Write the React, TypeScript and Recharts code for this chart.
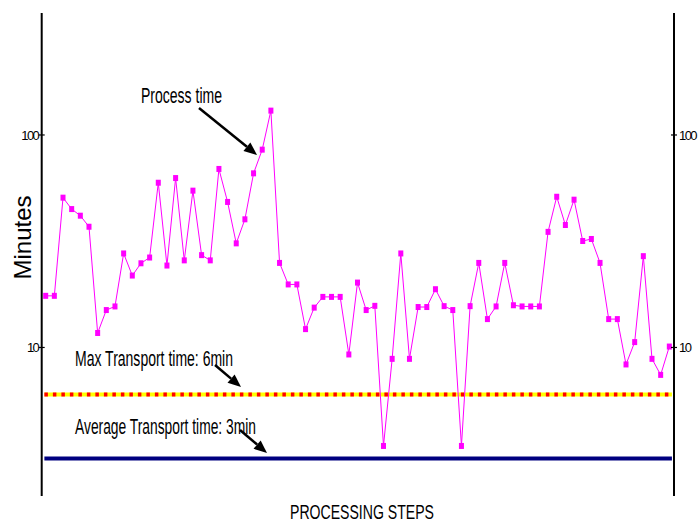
import { Line, LineChart, ReferenceLine, XAxis, YAxis } from 'recharts';

// minutes per processing step
const processTime = [
  17.5, 17.5, 50.7, 44.8, 41.7, 37.0, 11.7, 15.0, 15.6, 27.7,
  21.8, 24.9, 26.5, 59.6, 24.3, 62.7, 25.7, 54.7, 27.2, 25.7,
  69.2, 48.4, 30.9, 40.1, 66.0, 85.3, 130.2, 25.0, 19.8, 19.8,
  12.2, 15.4, 17.3, 17.3, 17.3, 9.27, 20.2, 15.0, 15.7, 3.44,
  8.84, 27.7, 8.84, 15.5, 15.5, 18.8, 15.65, 15.0, 3.44, 15.65,
  25.0, 13.6, 15.6, 25.0, 15.8, 15.6, 15.6, 15.6, 35.0, 51.2,
  37.7, 49.6, 31.7, 32.4, 25.0, 13.6, 13.6, 8.32, 10.6, 26.9,
  8.84, 7.43, 10.1,
];
const maxTransport = 6;
const avgTransport = 3;
const yTicks = [10, 100];

const data = processTime.map((time, i) => ({ step: i, time }));
const lastStep = processTime.length - 1;

const narrow = { fontFamily: '"Liberation Sans", Arial, sans-serif', fill: '#000' };

function YTick({ x, y, payload, side }: any) {
  const label = String(payload.value);
  const left = side === 'left';
  return (
    <g>
      <line
        x1={left ? x + 2 : x - 8}
        x2={left ? x + 8 : x - 2}
        y1={y}
        y2={y}
        stroke="#000"
        strokeWidth={1.2}
      />
      <text
        x={left ? x + 1.5 : x}
        y={y + 5}
        textAnchor={left ? 'end' : 'start'}
        fontSize={13}
        letterSpacing={-1.6}
        style={narrow}
      >
        {label}
      </text>
    </g>
  );
}

function Marker({ cx, cy }: any) {
  if (cx == null || cy == null) return null;
  return <rect x={cx - 2.5} y={cy - 3} width={5} height={6} fill="#FF00FF" />;
}

function Arrow({ x1, y1, x2, y2 }: { x1: number; y1: number; x2: number; y2: number }) {
  const dx = x2 - x1;
  const dy = y2 - y1;
  const len = Math.hypot(dx, dy);
  const ux = dx / len;
  const uy = dy / len;
  const head = 13;
  const half = 5.5;
  const bx = x2 - ux * head;
  const by = y2 - uy * head;
  const pts = `${x2},${y2} ${bx - uy * half},${by + ux * half} ${bx + uy * half},${by - ux * half}`;
  return (
    <g>
      <line x1={x1} y1={y1} x2={bx} y2={by} stroke="#000" strokeWidth={2.5} />
      <polygon points={pts} fill="#000" />
    </g>
  );
}

function NarrowText({ x, y, w, size, children }: any) {
  return (
    <text x={x} y={y} fontSize={size} textLength={w} lengthAdjust="spacingAndGlyphs" style={narrow}>
      {children}
    </text>
  );
}

export default function App() {
  return (
    <div style={{ position: 'absolute', left: 0, top: 0, width: 699, height: 522, background: '#fff' }}>
      <LineChart
        width={699}
        height={522}
        data={data}
        margin={{ top: 13, right: 0, bottom: 26, left: 1.7 }}
      >
        <XAxis dataKey="step" type="number" domain={[-0.46, lastStep + 0.54]} hide />
        <YAxis
          yAxisId="left"
          orientation="left"
          width={40}
          scale="log"
          domain={[2, 375]}
          allowDataOverflow
          ticks={yTicks}
          tickSize={3}
          tickMargin={2}
          tickLine={false}
          axisLine={{ stroke: '#000', strokeWidth: 2 }}
          tick={<YTick side="left" />}
        />
        <YAxis
          yAxisId="right"
          orientation="right"
          width={25}
          scale="log"
          domain={[2, 375]}
          allowDataOverflow
          ticks={yTicks}
          tickSize={3}
          tickMargin={2}
          tickLine={false}
          axisLine={{ stroke: '#000', strokeWidth: 2 }}
          tick={<YTick side="right" />}
        />
        <ReferenceLine
          yAxisId="left"
          segment={[{ x: -0.15, y: maxTransport }, { x: lastStep + 0.3, y: maxTransport }]}
          stroke="#FFFF00"
          strokeWidth={4}
        />
        <ReferenceLine
          yAxisId="left"
          segment={[{ x: -0.15, y: maxTransport }, { x: lastStep + 0.3, y: maxTransport }]}
          stroke="#FF0000"
          strokeWidth={4}
          strokeDasharray="3.5 5"
        />
        <ReferenceLine
          yAxisId="left"
          segment={[{ x: -0.15, y: avgTransport }, { x: lastStep + 0.3, y: avgTransport }]}
          stroke="#000080"
          strokeWidth={4}
        />
        <Line
          yAxisId="left"
          dataKey="time"
          type="linear"
          stroke="#FF00FF"
          strokeWidth={1}
          dot={<Marker />}
          activeDot={false}
          isAnimationActive={false}
        />
      </LineChart>
      <svg
        width={699}
        height={522}
        style={{ position: 'absolute', left: 0, top: 0, pointerEvents: 'none' }}
      >
        <NarrowText x={141} y={103} w={81} size={22}>Process time</NarrowText>
        <Arrow x1={199} y1={108} x2={257} y2={155} />
        <NarrowText x={75} y={366} w={158} size={22}>Max Transport time: 6min</NarrowText>
        <Arrow x1={215} y1={365} x2={241} y2={387} />
        <NarrowText x={75} y={434} w={181} size={22}>Average Transport time: 3min</NarrowText>
        <Arrow x1={240} y1={430} x2={267} y2={453} />
        <NarrowText x={290} y={518.5} w={144} size={20}>PROCESSING STEPS</NarrowText>
        <text
          transform="translate(30.5, 237.5) rotate(-90)"
          textAnchor="middle"
          fontSize={24}
          style={narrow}
        >
          Minutes
        </text>
      </svg>
    </div>
  );
}
